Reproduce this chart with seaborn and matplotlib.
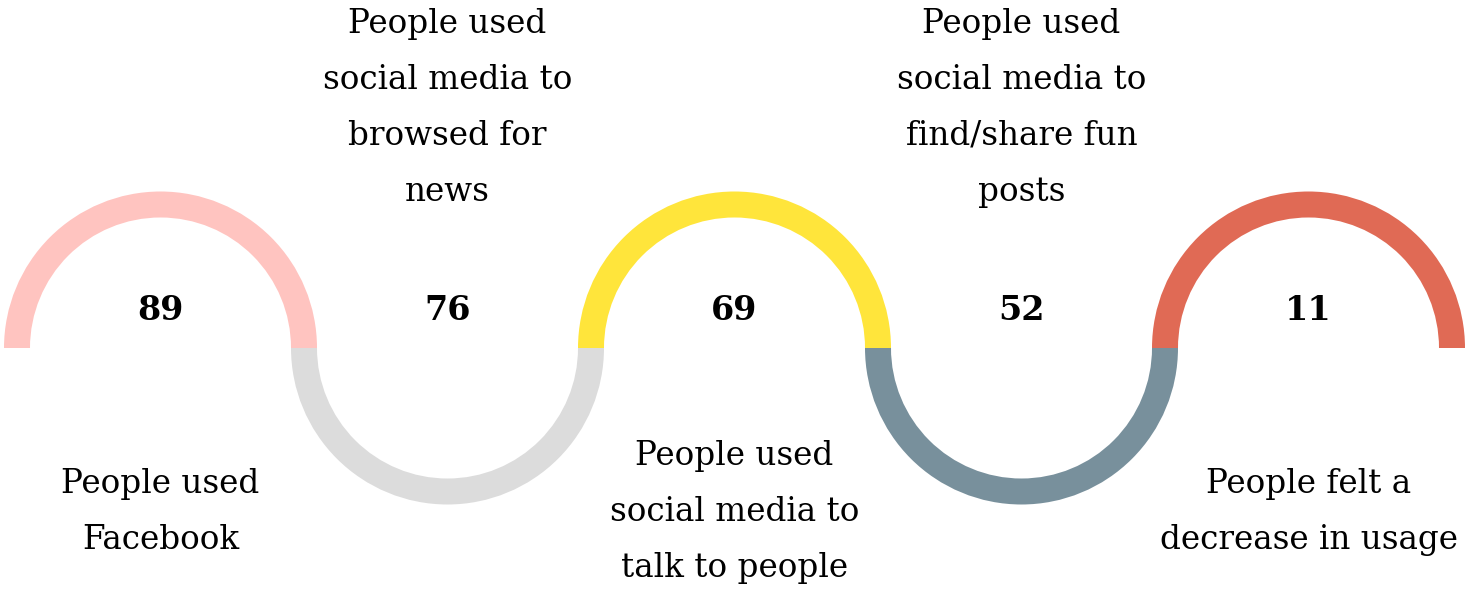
import matplotlib
matplotlib.use("Agg")
import matplotlib.pyplot as plt
from matplotlib.patches import Wedge
import seaborn as sns

# Survey figures, one per step of the wave
values = [89, 76, 69, 52, 11]
labels = [
    "People used\nFacebook",
    "People used\nsocial media to\nbrowsed for\nnews",
    "People used\nsocial media to\ntalk to people",
    "People used\nsocial media to\nfind/share fun\nposts",
    "People felt a\ndecrease in usage",
]
colors = ["#FFC4C0", "#DCDCDC", "#FFE53B", "#78909C", "#E06A55"]

sns.set_theme(style="white")
plt.rcParams["font.family"] = ["DejaVu Serif"]

W, H = 1467, 589
fig = plt.figure(figsize=(W / 100, H / 100), dpi=100)
ax = fig.add_axes([0, 0, 1, 1])
ax.set_xlim(0, W)
ax.set_ylim(0, H)
ax.set_aspect("equal")
ax.axis("off")

r_out, band = 156.5, 26
step = 2 * r_out - band          # neighbouring arcs share their end bands
x0 = 4 + r_out
y_mid = H - 348

for i, (val, lab, col) in enumerate(zip(values, labels, colors)):
    cx = x0 + i * step
    up = (i % 2 == 0)
    t1, t2 = (0, 180) if up else (180, 360)
    ax.add_patch(Wedge((cx, y_mid), r_out, t1, t2, width=band,
                       facecolor=col, edgecolor="none"))
    ax.text(cx, H - 310, f"{val}", ha="center", va="center",
            fontsize=24, fontweight="bold", color="black")
    ly = H - 512 if up else H - 108
    ax.text(cx, ly, lab, ha="center", va="center", fontsize=23.5,
            linespacing=1.95, color="black")

fig.savefig("out.png", dpi=100, facecolor="white")
